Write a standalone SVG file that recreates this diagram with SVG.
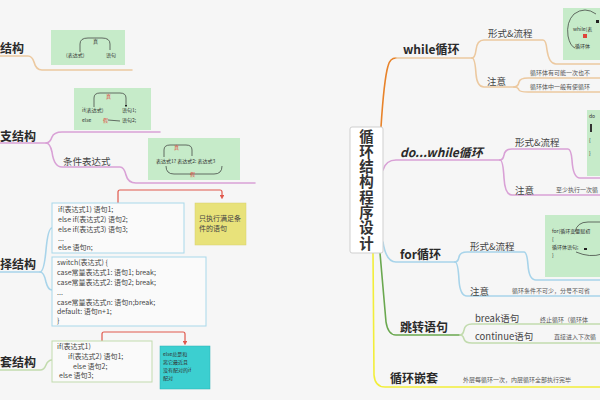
<svg xmlns="http://www.w3.org/2000/svg" width="600" height="400" viewBox="0 0 600 400">
<defs>
<style>
.bg{fill:#f6f6f6}
.title{font-family:"Noto Sans CJK SC","Noto Sans",sans-serif;font-weight:700;font-size:12px;fill:#2a2a2a}
.sub{font-family:"Noto Sans CJK SC","Noto Sans",sans-serif;font-size:9.5px;fill:#444}
.note{font-family:"Noto Sans CJK SC","Noto Sans",sans-serif;font-size:6px;fill:#555}
.code{font-family:"Noto Sans CJK SC","Noto Sans",sans-serif;font-size:7px;fill:#444}
.tiny{font-family:"Noto Sans CJK SC","Noto Sans",sans-serif;font-size:5px;fill:#333}
.red{fill:#e0443a}
.gbox{fill:#c6ebc9}
.line{fill:none;stroke-width:1.6;stroke-linecap:round}
.c-beige{stroke:#ecc9a0}
.c-purple{stroke:#d9a1d6}
.c-blue{stroke:#a8d4ea}
.c-green{stroke:#c2dbae}
.c-orange{stroke:#e8832a}
.c-yellow{stroke:#f2ee3a}
.c-dgreen{stroke:#6aa84f}
.c-red{stroke:#e0584c;fill:none;stroke-width:1.2}
.arc{fill:none;stroke:#333;stroke-width:0.7}
</style>
<marker id="ah" viewBox="0 0 6 6" refX="3" refY="3" markerWidth="4" markerHeight="4" orient="auto"><path d="M0,0 L6,3 L0,6 z" fill="#e0584c"/></marker>
<marker id="ab" viewBox="0 0 6 6" refX="3" refY="3" markerWidth="4" markerHeight="4" orient="auto"><path d="M0,0 L6,3 L0,6 z" fill="#222"/></marker>
</defs>
<rect class="bg" x="0" y="0" width="600" height="400"/>

<g id="connectors">
  <path class="line c-beige" d="M0,56 H28 Q32,56 34,62 Q36,70 42,70 H132"/>
  <path class="line c-purple" d="M0,143 H46 Q50,143 52,137 Q54,132 62,132 H160"/>
  <path class="line c-purple" d="M46,143 Q50,143 52,152 Q54,167 62,167 H120 Q124,167 126,175 Q128,183 136,183 H255"/>
  <path class="line c-blue" d="M0,272 H40 Q44,272 46,250 Q48,228 52,228"/>
  <path class="line c-blue" d="M40,272 Q44,272 46,282 Q48,290 52,290"/>
  <path class="line c-green" d="M0,370 H40 Q44,370 46,365 Q48,360 52,360"/>
  <path class="c-red" d="M118,203 V192 Q118,190 120,190 H220 Q222,190 222,192 V197" marker-end="url(#ah)"/>
  <path class="c-red" d="M102,341 V334 Q102,332 104,332 H183 Q185,332 185,334 V343" marker-end="url(#ah)"/>

  <path class="line c-orange" d="M381,127 Q384,80 388,66 Q390,58 396,58"/>
  <path class="line c-beige" d="M396,58 H472"/>
  <path class="line c-beige" d="M472,58 Q475,58 476,50 Q477,40 484,40 H543 Q546,40 547,50 Q549,64 556,64 H600"/>
  <path class="line c-beige" d="M472,58 Q475,58 476,74 Q477,87 484,87 H514"/>
  <path class="line c-beige" d="M514,87 Q518,87 519,82 Q520,78 528,78 H600"/>
  <path class="line c-beige" d="M514,87 Q518,87 519,90 Q520,92 528,92 H600"/>

  <path class="line c-purple" d="M383,170 Q386,160 396,160 H500"/>
  <path class="line c-purple" d="M500,160 Q503,160 504,155 Q505,149 512,149 H568 Q571,149 572,160 Q573,178 580,178 H600"/>
  <path class="line c-purple" d="M500,160 Q503,160 504,178 Q505,195 512,195 H600"/>

  <path class="line c-blue" d="M383,242 Q386,262 396,262 H455"/>
  <path class="line c-blue" d="M455,262 Q458,262 459,257 Q460,252 467,252 H524 Q527,252 528,265 Q529,280 536,280 H600"/>
  <path class="line c-blue" d="M455,262 Q458,262 459,280 Q460,296 467,296 H600"/>

  <path class="line c-dgreen" d="M380,253 L386,322 Q388,335 396,335 H460"/>
  <path class="line c-green" d="M460,335 Q463,335 464,330 Q465,324 472,324 H600"/>
  <path class="line c-green" d="M460,335 Q463,335 464,339 Q465,343 472,343 H600"/>

  <path class="line c-yellow" d="M373,253 L374,375 Q375,387 385,387 H600"/>
</g>

<g id="left1">
  <text class="title" x="0" y="53">结构</text>
  <rect class="gbox" x="51" y="30" width="74" height="35"/>
  <path class="arc" d="M80,52 V44 Q80,38 88,38 H102 Q110,38 110,44 V50"/>
  <text class="tiny" x="93" y="43">真</text>
  <text class="tiny" x="66" y="57">(表达式)</text>
  <text class="tiny" x="106" y="57">语句</text>
</g>
<g id="left2">
  <text class="title" x="0" y="141">支结构</text>
  <rect class="gbox" x="74" y="88" width="77" height="42"/>
  <path class="arc" d="M94,107 V98 Q94,93 100,93 H120 Q126,93 126,98 V106" marker-end="url(#ab)"/>
  <text class="tiny red" x="106" y="98">真</text>
  <text class="tiny" x="82" y="112">if(表达式)</text>
  <text class="tiny" x="122" y="112">语句1;</text>
  <text class="tiny" x="82" y="122">else</text>
  <text class="tiny red" x="103" y="122">假</text>
  <path class="arc" d="M108,120 L120,121"/>
  <text class="tiny" x="122" y="122">语句2;</text>
  <text class="sub" x="63" y="165">条件表达式</text>
  <rect class="gbox" x="148" y="138" width="92" height="42"/>
  <path class="arc" d="M164,157 V150 Q164,145 170,145 H186 Q192,145 192,150 V156"/>
  <text class="tiny red" x="174" y="149">真</text>
  <text class="tiny" x="156" y="163">表达式1? 表达式2: 表达式3</text>
  <path class="arc" d="M166,166 Q166,174 174,174 H214 Q222,174 222,166"/>
  <text class="tiny red" x="190" y="176">假</text>
</g>
<g id="left3">
  <text class="title" x="0" y="269">择结构</text>
  <rect x="52" y="203" width="132" height="50" fill="#fafafa" stroke="#a8d8ea" stroke-width="1"/>
  <text class="code" x="58" y="212">if(表达式1)     语句1;</text>
  <text class="code" x="58" y="222">else  if(表达式2)    语句2;</text>
  <text class="code" x="58" y="232">else  if(表达式3)    语句3;</text>
  <text class="code" x="58" y="241">...</text>
  <text class="code" x="58" y="250">else      语句n;</text>
  <rect x="52" y="257" width="154" height="69" fill="#fafafa" stroke="#a8d8ea" stroke-width="1"/>
  <text class="code" x="57" y="265">switch(表达式) {</text>
  <text class="code" x="57" y="275">case常量表达式1:     语句1;  break;</text>
  <text class="code" x="57" y="285">case常量表达式2:     语句2;  break;</text>
  <text class="code" x="57" y="295">...</text>
  <text class="code" x="57" y="305">case常量表达式n:      语句n;break;</text>
  <text class="code" x="57" y="314">default:    语句n+1;</text>
  <text class="code" x="57" y="323">}</text>
  <rect x="195" y="203" width="51" height="42" fill="#e8e27a" stroke="#d8d070" stroke-width="0.5"/>
  <text class="code" x="199" y="221">只执行满足条</text>
  <text class="code" x="199" y="231">件的语句</text>
</g>
<g id="left4">
  <text class="title" x="0" y="367">套结构</text>
  <rect x="52" y="341" width="100" height="41" fill="#fafafa" stroke="#c2dbae" stroke-width="1"/>
  <text class="code" x="57" y="349">if(表达式1)</text>
  <text class="code" x="68" y="359">if(表达式2)     语句1;</text>
  <text class="code" x="73" y="369">else     语句2;</text>
  <text class="code" x="59" y="378">else   语句3;</text>
  <rect x="160" y="346" width="50" height="43" fill="#3ccfd0" stroke="#2bb0b5" stroke-width="0.5"/>
  <text class="tiny" x="163" y="356">else总是和</text>
  <text class="tiny" x="163" y="364">离它最近且</text>
  <text class="tiny" x="163" y="372">没有配对的if</text>
  <text class="tiny" x="163" y="380">配对</text>
</g>

<g id="center">
  <rect x="350" y="127" width="33" height="126" rx="2" fill="#ffffff" stroke="#cfcfcf" stroke-width="1"/>
  <text x="366.5" y="190" writing-mode="vertical-rl" text-anchor="middle" font-family="'Noto Sans CJK SC',sans-serif" font-size="14.5" font-weight="700" letter-spacing="0.8" fill="#333">循环结构程序设计</text>
</g>

<g id="while">
  <text class="title" x="403" y="54">while循环</text>
  <text class="sub" x="488" y="37">形式&amp;流程</text>
  <rect class="gbox" x="563" y="8" width="40" height="52"/>
  <path class="arc" d="M596,14 Q585,6 574,14 Q566,22 568,36 Q570,46 575,48"/>
  <text class="tiny" x="573" y="31">while(表</text>
  <rect x="583" y="34" width="4" height="4" fill="#e0443a"/>
  <text class="tiny" x="575" y="48">循环体</text>
  <rect x="596" y="20" width="3" height="3" fill="#222"/>
  <text class="sub" x="487" y="85">注意</text>
  <text class="note" x="530" y="75">循环体有可能一次也不</text>
  <text class="note" x="530" y="89">循环体中一般有使循环</text>
</g>

<g id="dowhile">
  <text class="title" x="400" y="157" font-style="italic">do...while循环</text>
  <text class="sub" x="515" y="146">形式&amp;流程</text>
  <rect class="gbox" x="587" y="110" width="15" height="66"/>
  <text class="tiny" x="589" y="118">do</text>
  <rect x="590" y="124" width="2" height="8" fill="#333"/>
  <text class="tiny" x="589" y="142">{</text>
  <text class="tiny" x="589" y="155">}</text>
  <text class="sub" x="515" y="194">注意</text>
  <text class="note" x="556" y="192">至少执行一次循</text>
</g>

<g id="for">
  <text class="title" x="400" y="259">for循环</text>
  <text class="sub" x="470" y="250">形式&amp;流程</text>
  <rect class="gbox" x="545" y="215" width="57" height="62"/>
  <path class="arc" d="M575,232 Q577,222 588,222 H602"/>
  <text class="tiny" x="552" y="233">for(循环变量赋初</text>
  <text class="tiny" x="552" y="241">{</text>
  <text class="tiny" x="552" y="249">循环体语句;</text>
  <text class="tiny" x="552" y="257">}</text>
  <path class="arc" d="M576,252 Q590,258 602,254"/>
  <rect x="584" y="248" width="3" height="2" fill="#222"/>
  <text class="sub" x="470" y="295">注意</text>
  <text class="note" x="512" y="293">循环条件不可少，分号不可省</text>
</g>

<g id="jump">
  <text class="title" x="400" y="332">跳转语句</text>
  <text class="sub" x="475" y="322">break语句</text>
  <text class="note" x="540" y="322">终止循环（循环体</text>
  <text class="sub" x="475" y="340">continue语句</text>
  <text class="note" x="554" y="339">直接进入下次循</text>
</g>

<g id="nest">
  <text class="title" x="390" y="383">循环嵌套</text>
  <text class="note" x="463" y="382">外层每循环一次，内层循环全部执行完毕</text>
</g>
</svg>
